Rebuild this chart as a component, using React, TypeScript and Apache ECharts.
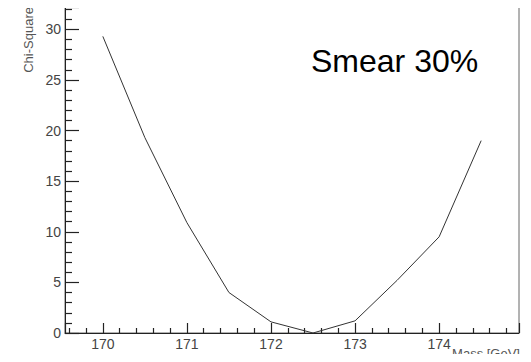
import React, { useEffect, useRef } from "react";
import * as echarts from "echarts";

// Chi-square scan versus top mass
const massPoints = [170, 170.5, 171, 171.5, 172, 172.5, 173, 173.5, 174, 174.5];
const chiSquare = [29.3, 19.3, 10.9, 4.0, 1.1, 0.0, 1.2, 5.2, 9.5, 19.0];

const xRange = [169.55, 174.95];
const yRange = [0, 32.2];
const yStep = 5;

const FONT = "'Liberation Sans', Arial, sans-serif";
const AXIS_COLOR = "#222";

export default function App() {
  const ref = useRef<HTMLDivElement>(null);

  useEffect(() => {
    if (!ref.current) return;
    const chart = echarts.init(ref.current, null, { renderer: "svg" });

    chart.setOption({
      animation: false,
      grid: { left: 65, right: 12, top: 7, bottom: 29, show: true, borderColor: "#666" },
      xAxis: {
        type: "value",
        min: xRange[0],
        max: xRange[1],
        splitLine: { show: false },
        axisLine: { lineStyle: { color: AXIS_COLOR } },
        axisTick: { show: true, inside: true, length: 10, lineStyle: { color: AXIS_COLOR, width: 1.2 } },
        minorTick: { show: true, splitNumber: 5, length: 5, lineStyle: { color: AXIS_COLOR, width: 1.2 } },
        axisLabel: {
          margin: 4,
          fontSize: 14,
          color: "#444",
          fontFamily: FONT,
          showMinLabel: false,
          showMaxLabel: false,
        },
      },
      yAxis: {
        type: "value",
        min: yRange[0],
        max: yRange[1],
        interval: yStep,
        splitLine: { show: false },
        axisLine: { lineStyle: { color: AXIS_COLOR } },
        axisTick: { show: true, inside: true, length: 14, lineStyle: { color: AXIS_COLOR, width: 1.2 } },
        minorTick: { show: true, splitNumber: 5, length: 7, lineStyle: { color: AXIS_COLOR, width: 1.2 } },
        axisLabel: {
          margin: 4,
          fontSize: 14,
          color: "#444",
          fontFamily: FONT,
          showMaxLabel: false,
        },
      },
      series: [
        {
          type: "line",
          data: massPoints.map((m, i) => [m, chiSquare[i]]),
          symbol: "none",
          lineStyle: { color: "#333", width: 1 },
        },
      ],
      graphic: [
        {
          type: "text",
          x: 311,
          y: 61,
          style: {
            text: "Smear 30%",
            fontSize: 32,
            fontFamily: FONT,
            fill: "#000",
            textAlign: "left",
            textVerticalAlign: "middle",
          },
        },
        {
          type: "text",
          x: 28,
          y: 7,
          rotation: Math.PI / 2,
          style: {
            text: "Chi-Square",
            fontSize: 13,
            fontFamily: FONT,
            fill: "#555",
            textAlign: "right",
            textVerticalAlign: "middle",
          },
        },
        {
          type: "text",
          x: 520,
          y: 347,
          style: {
            text: "Mass [GeV]",
            fontSize: 13,
            fontFamily: FONT,
            fill: "#555",
            textAlign: "right",
            textVerticalAlign: "top",
          },
        },
      ],
    });

    return () => chart.dispose();
  }, []);

  return <div ref={ref} style={{ width: 531, height: 362, margin: -8 }} />;
}
